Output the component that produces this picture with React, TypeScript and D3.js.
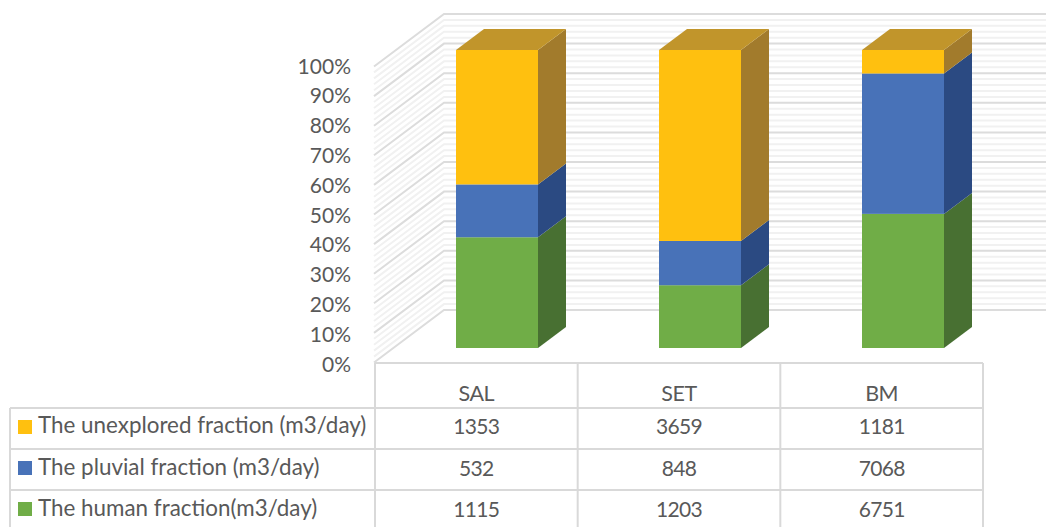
import React from "react";
import * as d3 from "d3";

// Flow volumes per site, in m3/day
const sites = ["SAL", "SET", "BM"];
const humanFraction = [1115, 1203, 6751];
const pluvialFraction = [532, 848, 7068];
const unexploredFraction = [1353, 3659, 1181];
const percentTicks = d3.range(0, 101, 10);
const minorTicks = d3.range(0, 100.01, 2);

const seriesRows = [
  { label: "The unexplored fraction (m3/day)", values: unexploredFraction, front: "#ffc00f", side: "#a27b2c", top: "#c1952b" },
  { label: "The pluvial fraction (m3/day)", values: pluvialFraction, front: "#4872b8", side: "#2b4a82", top: "#2b4a82" },
  { label: "The human fraction(m3/day)", values: humanFraction, front: "#70ad47", side: "#487032", top: "#487032" },
];
const stackOrder = [2, 1, 0].map((i) => seriesRows[i]);

const W = 1046;
const H = 527;
const textColor = "#595959";
const fontFamily = "Lato, Carlito, sans-serif";

// Wall axis: the back plane, with the floor sheared forward to the value axis
const wallY = d3.scaleLinear().domain([0, 100]).range([310, 14]);
const tickLabelY = d3.scaleLinear().domain([0, 100]).range([371.5, 73.5]);
const shearX = 70;
const shearY = 52.5;
const backX = 444;
const wallRight = 1046;

// Bars
const barY = d3.scaleLinear().domain([0, 1]).range([348, 50]);
const barLeft = d3.scalePoint<string>().domain(sites).range([456, 862]);
const barW = 82;
const depthX = 28;
const depthY = 21;

// Data table
const colX = d3.scalePoint<string>().domain(["a", "b", "c", "d"]).range([375, 983]);
const rowLines = [408, 449, 490];
const tableTop = 363;
const tableBottom = 527;
const tableLeft = 10;
const catBaseline = 401;
const rowBaselines = [434, 476, 517];
const legendTextBaselines = [433, 475, 516];
const swatchY = [420, 461, 502];

export default function App() {
  const columns = colX.domain();
  return (
    <svg
      width={W}
      height={H}
      viewBox={`0 0 ${W} ${H}`}
      style={{ position: "absolute", left: 0, top: 0, background: "#fff" }}
      fontFamily={fontFamily}
    >
      {/* minor gridlines on the side wall and back wall */}
      {minorTicks.filter((t) => t % 10 !== 0).map((t) => (
        <path
          key={`m${t}`}
          d={`M${backX - shearX},${wallY(t) + shearY}L${backX},${wallY(t)}L${wallRight},${wallY(t)}`}
          fill="none"
          stroke="#f1f1f1"
          strokeWidth={2}
        />
      ))}
      {/* major gridlines */}
      {percentTicks.map((t) => (
        <path
          key={`g${t}`}
          d={`M${backX - shearX},${wallY(t) + shearY}L${backX},${wallY(t)}L${wallRight},${wallY(t)}`}
          fill="none"
          stroke="#dcdcdc"
          strokeWidth={2}
        />
      ))}

      {/* value axis labels */}
      {percentTicks.map((t) => (
        <text
          key={`t${t}`}
          x={351}
          y={tickLabelY(t)}
          textAnchor="end"
          fontSize={21}
          fill={textColor}
        >
          {t}%
        </text>
      ))}

      {/* stacked 3D columns */}
      {sites.map((site, i) => {
        const x0 = barLeft(site) as number;
        const total = d3.sum(stackOrder, (s) => s.values[i]);
        let running = 0;
        return (
          <g key={site}>
            {stackOrder.map((s) => {
              const y0 = barY(running / total);
              running += s.values[i];
              const y1 = barY(running / total);
              const x1 = x0 + barW;
              return (
                <g key={s.label}>
                  <rect x={x0} y={y1} width={barW} height={y0 - y1} fill={s.front} />
                  <path
                    d={`M${x1},${y0}L${x1 + depthX},${y0 - depthY}L${x1 + depthX},${y1 - depthY}L${x1},${y1}Z`}
                    fill={s.side}
                  />
                  {running === total && (
                    <path
                      d={`M${x0},${y1}L${x0 + depthX},${y1 - depthY}L${x1 + depthX},${y1 - depthY}L${x1},${y1}Z`}
                      fill={s.top}
                    />
                  )}
                </g>
              );
            })}
          </g>
        );
      })}

      {/* data table grid */}
      <g stroke="#d9d9d9" strokeWidth={2} fill="none">
        <line x1={375} x2={983} y1={tableTop} y2={tableTop} />
        {rowLines.map((y) => (
          <line key={y} x1={tableLeft} x2={983} y1={y} y2={y} />
        ))}
        {columns.map((c) => (
          <line key={c} x1={colX(c)} x2={colX(c)} y1={tableTop} y2={tableBottom} />
        ))}
        <line x1={tableLeft} x2={tableLeft} y1={rowLines[0]} y2={tableBottom} />
      </g>

      {/* category header row */}
      {sites.map((site, i) => {
        const cx = ((colX(columns[i]) as number) + (colX(columns[i + 1]) as number)) / 2;
        return (
          <text key={site} x={cx} y={catBaseline} textAnchor="middle" fontSize={21.5} letterSpacing={-0.4} fill={textColor}>
            {site}
          </text>
        );
      })}

      {/* legend keys and table values */}
      {seriesRows.map((s, r) => (
        <g key={s.label}>
          <rect x={18} y={swatchY[r]} width={14} height={14} fill={s.front} />
          <text x={38} y={legendTextBaselines[r]} fontSize={22.4} fill={textColor}>
            {s.label}
          </text>
          {s.values.map((v, i) => {
            const cx = ((colX(columns[i]) as number) + (colX(columns[i + 1]) as number)) / 2;
            return (
              <text
                key={i}
                x={cx}
                y={rowBaselines[r]}
                textAnchor="middle"
                fontSize={21}
                letterSpacing={-0.7}
                fill={textColor}
              >
                {v}
              </text>
            );
          })}
        </g>
      ))}
    </svg>
  );
}
